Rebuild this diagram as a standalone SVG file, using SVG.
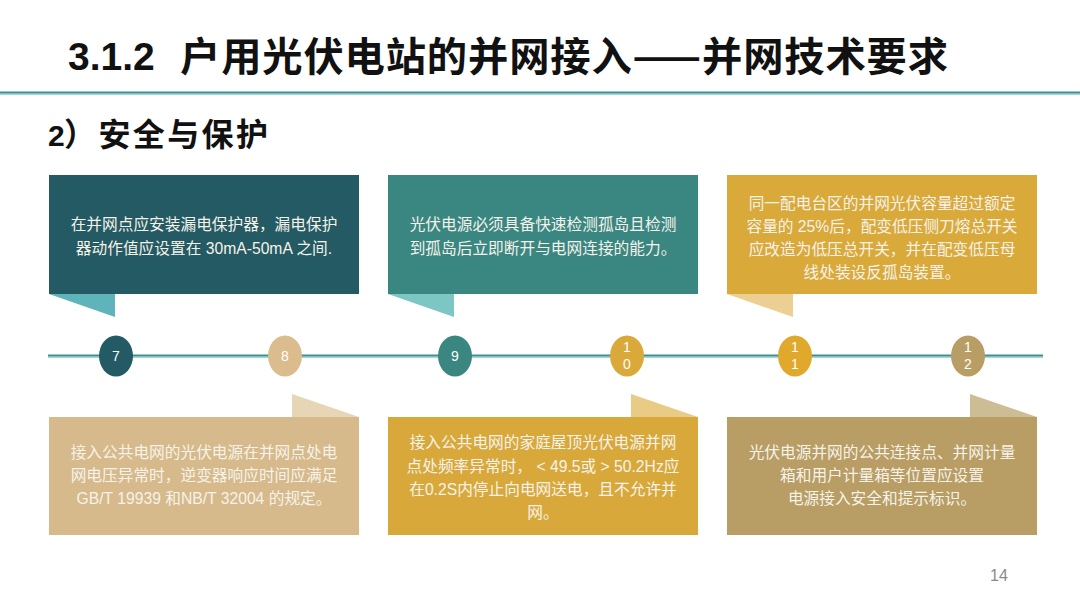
<svg xmlns="http://www.w3.org/2000/svg" width="1080" height="612" viewBox="0 0 1080 612">
<style>
.title{font-family:"Noto Sans CJK SC","Liberation Sans",sans-serif;font-weight:700;fill:#111;}
.lat{font-family:"Liberation Sans","Noto Sans CJK SC",sans-serif;font-weight:700;fill:#111;}
.body{font-family:"Liberation Sans","Noto Sans CJK SC",sans-serif;font-size:15.7px;fill:#f6f2ea;text-anchor:middle;}
.num{font-family:"Liberation Sans","Noto Sans CJK SC",sans-serif;font-size:14px;fill:#ffffff;text-anchor:middle;}
.page{font-family:"Liberation Sans",sans-serif;font-size:16px;fill:#8a8a8a;}
</style>
<rect width="1080" height="612" fill="#ffffff"/>
<g id="header">
<text class="lat" x="68" y="70" font-size="39">3.1.2</text>
<text class="title" x="180" y="71" font-size="40.3" textLength="768" lengthAdjust="spacing">户用光伏电站的并网接入——并网技术要求</text>
<rect x="0" y="91.5" width="1080" height="2.2" fill="#3f9093"/>
<rect x="0" y="93.7" width="1080" height="1.4" fill="#a8d5d3"/>
<text class="lat" x="48" y="146" font-size="30">2</text>
<text class="title" x="64" y="146" font-size="32" textLength="204" lengthAdjust="spacing">）安全与保护</text>
</g>
<g id="connectors">
<rect x="48" y="354.5" width="995" height="2.2" fill="#3f9093"/>
<rect x="48" y="356.7" width="995" height="1.4" fill="#a8d5d3"/>
</g>
<g id="node-7">
<polygon points="49,294 115,294 115,317" fill="#5eb4ba"/>
<rect x="49" y="175" width="310" height="119" fill="#235a63"/>
<text class="body" x="204" y="230">在并网点应安装漏电保护器，漏电保护</text>
<text class="body" x="204" y="254">器动作值应设置在 30mA-50mA 之间.</text>
<ellipse cx="116" cy="356" rx="17" ry="20.5" fill="#235a63"/>
<text class="num" x="116" y="361">7</text>
</g>
<g id="node-9">
<polygon points="388,294 454,294 454,317" fill="#7cc7c3"/>
<rect x="388" y="175" width="310" height="119" fill="#3a8782"/>
<text class="body" x="543" y="230">光伏电源必须具备快速检测孤岛且检测</text>
<text class="body" x="543" y="254">到孤岛后立即断开与电网连接的能力。</text>
<ellipse cx="455" cy="356" rx="17" ry="20.5" fill="#3a8782"/>
<text class="num" x="455" y="361">9</text>
</g>
<g id="node-11">
<polygon points="727,294 793,294 793,317" fill="#ecd093"/>
<rect x="727" y="175" width="310" height="119" fill="#d9a93a"/>
<text class="body" x="882" y="209">同一配电台区的并网光伏容量超过额定</text>
<text class="body" x="882" y="232">容量的 25%后，配变低压侧刀熔总开关</text>
<text class="body" x="882" y="255">应改造为低压总开关，并在配变低压母</text>
<text class="body" x="882" y="278">线处装设反孤岛装置。</text>
<ellipse cx="795" cy="356" rx="17" ry="20.5" fill="#e1a92c"/>
<text class="num" x="795" y="352">1</text>
<text class="num" x="795" y="369">1</text>
</g>
<g id="node-8">
<polygon points="292,394 292,417 359,417" fill="#e7d6b5"/>
<rect x="49" y="417" width="310" height="118" fill="#d6ba8b"/>
<text class="body" x="204" y="458">接入公共电网的光伏电源在并网点处电</text>
<text class="body" x="204" y="481">网电压异常时，逆变器响应时间应满足</text>
<text class="body" x="204" y="504">GB/T 19939 和NB/T 32004 的规定。</text>
<ellipse cx="285" cy="356" rx="17" ry="20.5" fill="#dbbd8d"/>
<text class="num" x="285" y="361">8</text>
</g>
<g id="node-10">
<polygon points="631,394 631,417 698,417" fill="#e9cb86"/>
<rect x="388" y="417" width="310" height="118" fill="#d8a93a"/>
<text class="body" x="543" y="448">接入公共电网的家庭屋顶光伏电源并网</text>
<text class="body" x="543" y="472">点处频率异常时， &lt; 49.5或 &gt; 50.2Hz应</text>
<text class="body" x="543" y="495">在0.2S内停止向电网送电，且不允许并</text>
<text class="body" x="543" y="518">网。</text>
<ellipse cx="627" cy="356" rx="17" ry="20.5" fill="#d9a93a"/>
<text class="num" x="627" y="352">1</text>
<text class="num" x="627" y="369">0</text>
</g>
<g id="node-12">
<polygon points="970,394 970,417 1037,417" fill="#cdbd94"/>
<rect x="727" y="417" width="310" height="118" fill="#b89e64"/>
<text class="body" x="882" y="458">光伏电源并网的公共连接点、并网计量</text>
<text class="body" x="882" y="481">箱和用户计量箱等位置应设置</text>
<text class="body" x="882" y="504">电源接入安全和提示标识。</text>
<ellipse cx="968" cy="356" rx="17" ry="20.5" fill="#b89e64"/>
<text class="num" x="968" y="352">1</text>
<text class="num" x="968" y="369">2</text>
</g>
<text class="page" x="990" y="581">14</text>
</svg>
